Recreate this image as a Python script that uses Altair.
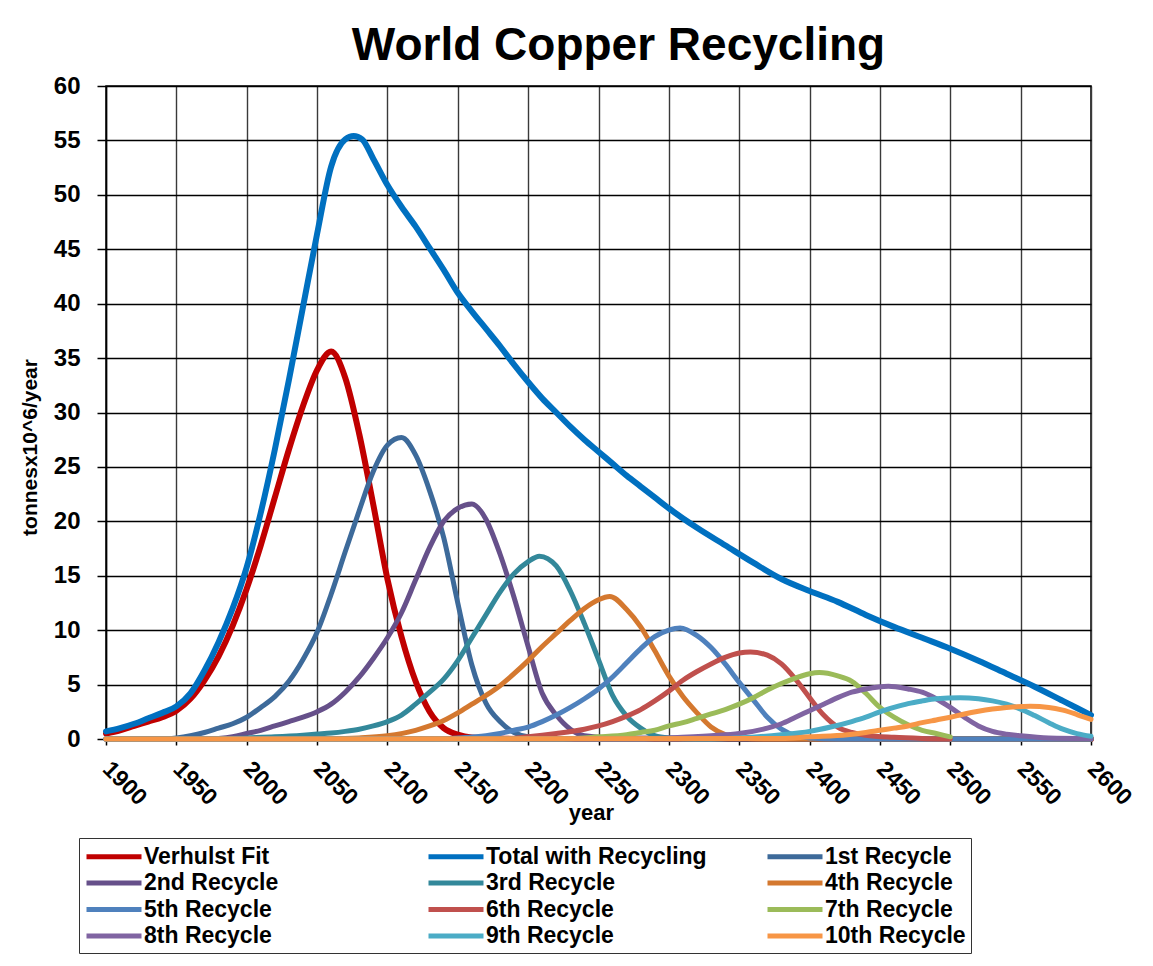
import altair as alt
import pandas as pd

FONT = "Liberation Sans, Arial, sans-serif"

series_names = [
    "Verhulst Fit", "Total with Recycling", "1st Recycle",
    "2nd Recycle", "3rd Recycle", "4th Recycle",
    "5th Recycle", "6th Recycle", "7th Recycle",
    "8th Recycle", "9th Recycle", "10th Recycle",
]
series_colors = [
    "#C00000", "#0070C0", "#3D6A9A",
    "#66508A", "#33889A", "#D4782F",
    "#4F81BD", "#C0504D", "#9BBB59",
    "#8064A2", "#4BACC6", "#F79646",
]

verhulst_years = [1900, 1910, 1920, 1930, 1940, 1950, 1960, 1970, 1980, 1990, 2000, 2010, 2020, 2030,
                  2040, 2050, 2060, 2070, 2080, 2090, 2100, 2110, 2120, 2130, 2140, 2150, 2160, 2180, 2200, 2600]
verhulst_vals = [0.5, 0.8, 1.2, 1.6, 2.0, 2.6, 3.7, 5.4, 7.6, 10.4, 13.8, 17.8, 22.2, 26.6,
                 30.6, 33.9, 35.6, 33.2, 28.0, 21.5, 14.7, 9.4, 5.3, 2.5, 1.0, 0.4, 0.15, 0.05, 0.0, 0.0]

total_years = [1900, 1910, 1920, 1930, 1940, 1950, 1960, 1970, 1980, 1990, 2000, 2010, 2020, 2030, 2040,
               2050, 2060, 2070, 2076, 2082, 2090, 2100, 2110, 2120, 2130, 2140, 2150, 2160, 2170, 2180,
               2190, 2200, 2210, 2220, 2230, 2240, 2250, 2260, 2270, 2280, 2290, 2300, 2320, 2340, 2360,
               2380, 2400, 2420, 2440, 2460, 2480, 2500, 2520, 2540, 2560, 2580, 2600]
total_vals = [0.7, 1.0, 1.4, 1.9, 2.4, 3.0, 4.2, 6.3, 8.9, 12.0, 15.8, 20.8, 26.6, 33.0, 39.7,
              46.4, 52.6, 55.1, 55.4, 55.1, 53.3, 50.9, 48.9, 47.1, 45.1, 43.1, 41.0, 39.3, 37.7, 36.1,
              34.4, 32.8, 31.3, 30.0, 28.7, 27.5, 26.4, 25.3, 24.2, 23.2, 22.2, 21.2, 19.4, 17.8, 16.2,
              14.7, 13.6, 12.6, 11.4, 10.3, 9.3, 8.3, 7.2, 6.0, 4.8, 3.5, 2.2]

r1_years = [1900, 1940, 1950, 1960, 1970, 1980, 1990, 2000, 2010, 2020, 2030, 2040, 2050, 2060, 2070,
            2080, 2090, 2100, 2110, 2120, 2130, 2140, 2150, 2160, 2170, 2180, 2190, 2200, 2220, 2600]
r1_vals = [0.0, 0.0, 0.1, 0.3, 0.6, 1.0, 1.4, 2.0, 2.9, 3.9, 5.3, 7.3, 9.8, 13.3, 17.2,
           21.0, 24.6, 27.0, 27.7, 26.1, 22.8, 18.5, 12.5, 6.8, 3.3, 1.6, 0.6, 0.2, 0.05, 0.0]

r2_years = [1900, 1970, 1980, 1990, 2000, 2010, 2020, 2030, 2040, 2050, 2060, 2070, 2080, 2090, 2100,
            2110, 2120, 2130, 2140, 2150, 2160, 2170, 2180, 2190, 2200, 2210, 2220, 2230, 2240, 2260, 2600]
r2_vals = [0.0, 0.0, 0.05, 0.2, 0.5, 0.8, 1.2, 1.6, 2.0, 2.5, 3.2, 4.3, 5.7, 7.4, 9.3,
           11.6, 14.6, 17.6, 20.0, 21.2, 21.6, 20.2, 17.0, 13.0, 8.5, 4.2, 2.2, 0.9, 0.3, 0.1, 0.0]

r3_years = [1900, 1980, 2000, 2020, 2040, 2050, 2060, 2070, 2080, 2090, 2100, 2110, 2120, 2130, 2140,
            2150, 2160, 2170, 2180, 2190, 2200, 2208, 2220, 2230, 2240, 2250, 2260, 2270, 2280, 2290,
            2300, 2320, 2600]
r3_vals = [0.0, 0.0, 0.1, 0.2, 0.35, 0.45, 0.55, 0.7, 0.9, 1.2, 1.6, 2.2, 3.2, 4.3, 5.5,
           7.2, 9.3, 11.4, 13.5, 15.2, 16.3, 16.8, 15.9, 13.6, 10.6, 7.3, 4.0, 2.1, 1.0, 0.3,
           0.1, 0.0, 0.0]

r4_years = [1900, 2050, 2080, 2100, 2120, 2130, 2140, 2150, 2160, 2170, 2180, 2190, 2200, 2210, 2220,
            2230, 2240, 2250, 2258, 2270, 2280, 2290, 2300, 2310, 2320, 2330, 2340, 2350, 2370, 2600]
r4_vals = [0.0, 0.0, 0.1, 0.3, 0.8, 1.2, 1.7, 2.4, 3.2, 4.0, 4.9, 6.0, 7.2, 8.5, 9.7,
           10.9, 12.0, 12.8, 13.1, 11.9, 10.3, 8.1, 5.8, 3.9, 2.4, 1.1, 0.4, 0.1, 0.0, 0.0]

r5_years = [1900, 2130, 2150, 2170, 2180, 2190, 2200, 2210, 2220, 2230, 2240, 2250, 2260, 2270, 2280,
            2290, 2300, 2308, 2320, 2330, 2340, 2350, 2360, 2370, 2380, 2390, 2400, 2420, 2600]
r5_vals = [0.0, 0.0, 0.1, 0.3, 0.5, 0.8, 1.1, 1.6, 2.2, 2.9, 3.7, 4.6, 5.7, 7.0, 8.3,
           9.4, 10.0, 10.2, 9.5, 8.4, 6.9, 5.2, 3.6, 2.0, 0.9, 0.3, 0.1, 0.0, 0.0]

r6_years = [1900, 2180, 2200, 2220, 2240, 2250, 2260, 2270, 2280, 2290, 2300, 2310, 2320, 2330, 2340,
            2350, 2358, 2370, 2380, 2390, 2400, 2410, 2420, 2430, 2440, 2460, 2480, 2500]
r6_vals = [0.0, 0.0, 0.2, 0.5, 0.9, 1.2, 1.6, 2.1, 2.7, 3.5, 4.4, 5.4, 6.2, 6.9, 7.5,
           7.9, 8.0, 7.7, 6.9, 5.5, 3.8, 2.2, 1.1, 0.6, 0.35, 0.15, 0.05, 0.0]

r7_years = [1900, 2220, 2250, 2270, 2280, 2290, 2300, 2310, 2320, 2330, 2340, 2350, 2360, 2370, 2380,
            2390, 2400, 2407, 2420, 2430, 2440, 2450, 2460, 2470, 2480, 2490, 2500]
r7_vals = [0.0, 0.0, 0.2, 0.4, 0.6, 0.8, 1.2, 1.5, 1.9, 2.3, 2.7, 3.2, 3.8, 4.5, 5.1,
           5.6, 6.0, 6.1, 5.8, 5.3, 4.2, 2.9, 2.0, 1.3, 0.8, 0.5, 0.2]

r8_years = [1900, 2280, 2300, 2330, 2350, 2370, 2380, 2390, 2400, 2410, 2420, 2430, 2440, 2456, 2470,
            2480, 2490, 2500, 2510, 2520, 2530, 2540, 2550, 2570, 2600]
r8_vals = [0.0, 0.0, 0.1, 0.3, 0.5, 1.0, 1.4, 2.0, 2.6, 3.2, 3.8, 4.3, 4.6, 4.85, 4.6,
           4.3, 3.7, 2.9, 2.0, 1.2, 0.7, 0.45, 0.3, 0.1, 0.05]

r9_years = [1900, 2330, 2350, 2380, 2400, 2415, 2430, 2440, 2450, 2460, 2470, 2480, 2490, 2507, 2520,
            2530, 2540, 2550, 2560, 2570, 2580, 2590, 2600]
r9_vals = [0.0, 0.0, 0.1, 0.4, 0.7, 1.1, 1.6, 2.0, 2.5, 2.9, 3.25, 3.5, 3.7, 3.8, 3.7,
           3.5, 3.2, 2.75, 2.15, 1.5, 0.9, 0.5, 0.25]

r10_years = [1900, 2380, 2400, 2427, 2440, 2450, 2460, 2470, 2480, 2490, 2500, 2510, 2520, 2530, 2540,
             2557, 2570, 2580, 2590, 2600]
r10_vals = [0.0, 0.05, 0.2, 0.4, 0.6, 0.8, 1.0, 1.2, 1.5, 1.75, 2.0, 2.3, 2.55, 2.75, 2.9,
            3.0, 2.9, 2.65, 2.25, 1.8]

x_ticks = list(range(1900, 2601, 50))
y_ticks = list(range(0, 61, 5))

all_years = [verhulst_years, total_years, r1_years, r2_years, r3_years, r4_years,
             r5_years, r6_years, r7_years, r8_years, r9_years, r10_years]
all_vals = [verhulst_vals, total_vals, r1_vals, r2_vals, r3_vals, r4_vals,
            r5_vals, r6_vals, r7_vals, r8_vals, r9_vals, r10_vals]

rows = []
for name, yrs, vals in zip(series_names, all_years, all_vals):
    for yr, v in zip(yrs, vals):
        rows.append({"series": name, "year": yr, "value": v})
df = pd.DataFrame(rows)

# first legend column gets invisible trailing padding (ended by a zero-width char so it is not trimmed)
first_col = "['" + "','".join(series_names[0::3]) + "']"
pad = "\u00a0" * 14 + "\u200b"
label_expr = f"indexof({first_col}, datum.value) >= 0 ? datum.value + '{pad}' : datum.value"

color = alt.Color(
    "series:N",
    scale=alt.Scale(domain=series_names, range=series_colors),
    legend=alt.Legend(
        title=None, orient="none", legendX=-27, legendY=752, columns=3,
        direction="horizontal", gridAlign="each", columnPadding=50, rowPadding=0.5,
        symbolType="M-1,0H4", symbolSize=484, symbolStrokeWidth=5,
        labelFont=FONT, labelFontSize=23, labelFontWeight="bold", labelColor="black",
        labelOffset=33, labelExpr=label_expr, labelLimit=800,
        padding=5, strokeColor="#333333",
    ),
)
x = alt.X(
    "year:Q",
    scale=alt.Scale(domain=[1900, 2600], nice=False, zero=False),
    axis=alt.Axis(
        values=x_ticks, format="d", title="year",
        labelAngle=45, labelAlign="left", labelBaseline="middle",
        labelFont=FONT, labelFontSize=23, labelFontWeight="bold", labelColor="black",
        labelPadding=20, tickSize=6, tickColor="black", tickWidth=1.5,
        domainColor="black", domainWidth=1.5,
        gridColor="#3a3a3a", gridWidth=1.4,
        titleFont=FONT, titleFontSize=22, titleFontWeight="bold", titleColor="black",
        titleX=485, titleY=80, titleBaseline="alphabetic", titleAlign="center",
    ),
)
y = alt.Y(
    "value:Q",
    scale=alt.Scale(domain=[0, 60], nice=False),
    axis=alt.Axis(
        values=y_ticks, title="tonnesx10^6/year",
        labelFont=FONT, labelFontSize=24, labelFontWeight="bold", labelColor="black",
        labelPadding=17, tickSize=9, tickColor="black", tickWidth=1.5,
        domainColor="black", domainWidth=1.5,
        gridColor="black", gridWidth=1.4,
        titleFont=FONT, titleFontSize=21, titleFontWeight="bold", titleColor="black",
        titleX=-76, titleY=361, titleAngle=-90, titleAlign="center", titleBaseline="middle",
    ),
)

layers = []
for i, name in enumerate(series_names):
    w = 6 if i < 2 else 5
    layers.append(
        alt.Chart()
        .transform_filter(alt.datum.series == name)
        .mark_line(strokeWidth=w, interpolate="monotone", strokeCap="round", strokeJoin="round")
        .encode(x=x, y=y, color=color)
    )

chart = (
    alt.layer(*layers, data=df)
    .properties(
        width=985, height=653,
        padding={"left": 98, "top": 78, "right": 50, "bottom": 219},
        autosize=alt.AutoSizeParams(type="none"),
        background="white",
        title=alt.TitleParams(
            "World Copper Recycling", font=FONT, fontSize=46, fontWeight="bold",
            color="black", anchor="middle", dx=20, dy=58, offset=26, baseline="alphabetic",
        ),
    )
    .configure_view(stroke="black", strokeWidth=1.5)
)

chart.save("out.html", embed_options={"renderer": "svg", "actions": False})
